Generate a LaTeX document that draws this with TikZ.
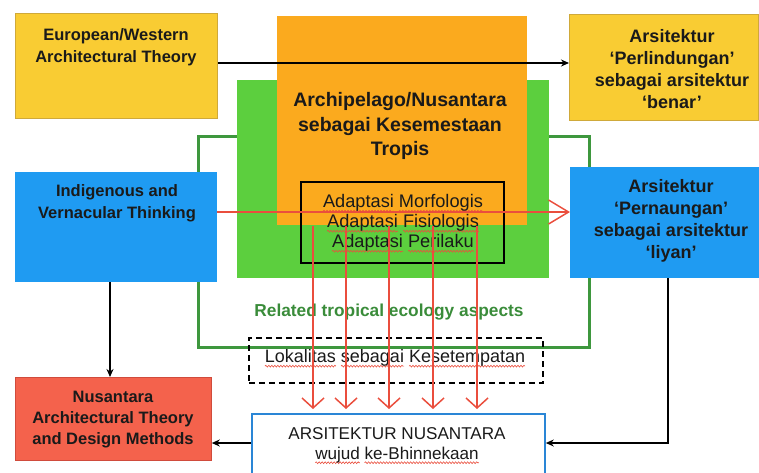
\documentclass[tikz,border=0pt]{standalone}
\usepackage{fontspec}
\setmainfont{Liberation Sans}
\usetikzlibrary{arrows.meta,calc,decorations.pathmorphing}
\definecolor{cyel}{HTML}{F9CC33}
\definecolor{cyelb}{HTML}{CFA93A}
\definecolor{corg}{HTML}{FBAA1E}
\definecolor{cgrn}{HTML}{5CCF3E}
\definecolor{cgo}{HTML}{3E973E}
\definecolor{cblu}{HTML}{1F9BF2}
\definecolor{cred}{HTML}{F4624C}
\definecolor{credb}{HTML}{D04B3C}
\definecolor{carr}{HTML}{EA4E3D}
\definecolor{cline}{HTML}{2A86D6}
\definecolor{ctxt}{HTML}{1A1A1A}
\definecolor{cdg}{HTML}{3A8C3A}
\newsavebox\sqbox
\newcommand\sqw[1]{\sbox\sqbox{#1}\rlap{\tikz[overlay]\draw[carr, line width=0.6pt, decorate, decoration={snake, amplitude=0.9pt, segment length=3pt}] (0pt,-3.5pt) -- (\wd\sqbox,-3.5pt);}#1}
\tikzset{
  box/.style={inner sep=0pt, anchor=north west},
  tx/.style={align=center, inner sep=0pt, text=ctxt},
  hd/.style={font=\fontsize{16.5}{22}\selectfont\bfseries},
  hdr/.style={font=\fontsize{18}{22}\selectfont\bfseries},
  blk/.style={line width=1.5pt, -{Stealth[length=8pt,width=7pt]}},
  rarr/.style={draw=carr, line width=1.5pt, -{Straight Barb[length=10pt,width=22pt,line width=1.5pt]}},
}
\begin{document}
\begin{tikzpicture}[x=1pt,y=-1pt]
\useasboundingbox (0,0) rectangle (759,472);
\clip (0,0) rectangle (759,472);
% green outline (behind)
\node[box, draw=cgo, line width=2.5pt, minimum width=391, minimum height=211] (go) at (197,135) {};
% green filled
\node[box, fill=cgrn, minimum width=312, minimum height=198] (gf) at (237,80) {};
% orange
\node[box, fill=corg, minimum width=250, minimum height=209] (or) at (277,16) {};
% yellow boxes
\node[box, fill=cyel, draw=cyelb, line width=0.8pt, minimum width=202, minimum height=105] (yl) at (15,13) {};
\node[box, fill=cyel, draw=cyelb, line width=0.8pt, minimum width=189, minimum height=106] (yr) at (569,14) {};
% blue boxes
\node[box, fill=cblu, minimum width=202, minimum height=110] (bl) at (15,172) {};
\node[box, fill=cblu, minimum width=230, minimum height=111] (br) at (570,167) {};
% arrow across top
\draw[blk] (yl.north east) ++(0,50) coordinate (ya) -- (yr.west |- ya);
% black adaptation box
\node[box, draw=black, line width=1.6pt, minimum width=203, minimum height=81] (ad) at (300,181) {};
% texts
\node[tx, hd] (ylt) at (116,47) {European/Western\\Architectural Theory};
\node[tx, hdr] (yrt) at (672,69) {Arsitektur\\‘Perlindungan’\\sebagai arsitektur\\‘benar’};
\node[tx, font=\fontsize{19.5}{24.5}\selectfont\bfseries] (ort) at (400,126) {Archipelago/Nusantara\\sebagai Kesemestaan\\Tropis};
\node[tx, hd] (blt) at (117,203) {Indigenous and\\Vernacular Thinking};
\node[tx, hdr] (brt) at (671,221) {Arsitektur\\‘Pernaungan’\\sebagai arsitektur\\‘liyan’};
\node[tx, font=\fontsize{18.2}{20}\selectfont] (adt) at (403,223) {\sqw{Adaptasi} \sqw{Morfologis}\\\sqw{Adaptasi} \sqw{Fisiologis}\\\sqw{Adaptasi} \sqw{Perilaku}};
\node[tx, text=cdg, font=\fontsize{17.3}{20}\selectfont\bfseries] (rel) at (389,312) {Related tropical ecology aspects};
% dashed box
\node[box, draw=black, line width=1.8pt, dash pattern=on 6pt off 4pt, minimum width=294, minimum height=45] (lk) at (248,337) {};
\node[tx, font=\fontsize{18}{20}\selectfont] (lkt) at (395,358) {\sqw{Lokalitas} \sqw{sebagai} \sqw{Kesetempatan}};
% bottom box
\node[box, fill=white, draw=cline, line width=1.8pt, minimum width=293, minimum height=75] (an) at (251,413) {};
\node[tx, font=\fontsize{17.1}{20}\selectfont] (ant) at (397,445) {ARSITEKTUR NUSANTARA\\\sqw{wujud} \sqw{ke-Bhinnekaan}};
% red box
\node[box, fill=cred, draw=credb, line width=0.8pt, minimum width=196, minimum height=83] (nr) at (15,377) {};
\node[tx, font=\fontsize{16.5}{21}\selectfont\bfseries] (nrt) at (113,420) {Nusantara\\Architectural Theory\\and Design Methods};
% black arrows
\draw[blk] (bl.south -| 110,0) -- (nr.north -| 110,0);
\draw[blk] (an.west |- 0,443) -- (nr.east |- 0,443);
\draw[blk] (br.south -| 668,0) |- (an.east |- 0,443);
% red arrows
\draw[carr, line width=1.5pt, -{Straight Barb[length=20pt,width=24pt,line width=1.5pt]}] (bl.east |- 0,212) -- (br.west |- 0,212);
\foreach \i/\x in {1/313,2/346,3/389,4/433,5/477}{
  \coordinate (s\i) at (\x,226);
  \draw[rarr, shorten >=4pt] (s\i) -- (s\i |- an.north);
}
\end{tikzpicture}
\end{document}
